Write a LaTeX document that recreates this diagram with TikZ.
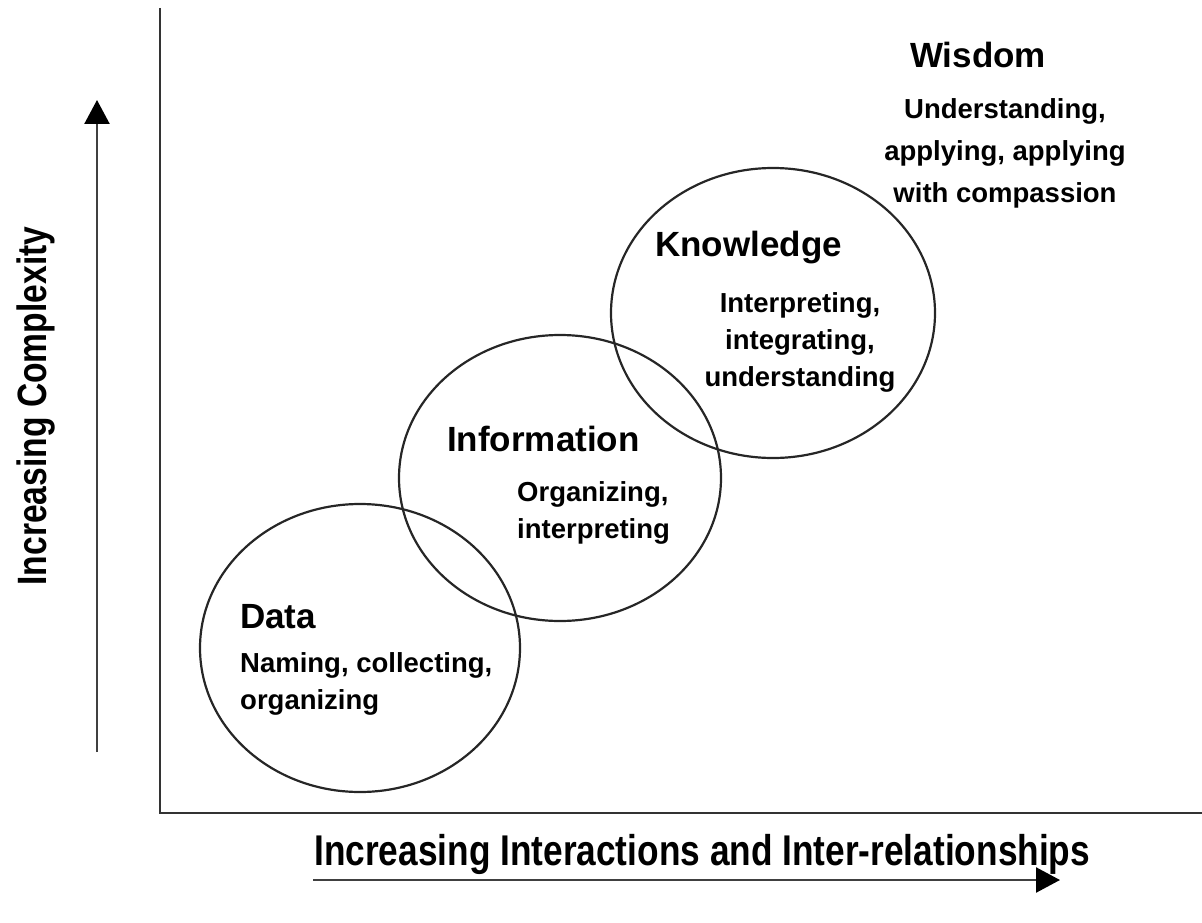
\documentclass[tikz,border=0pt]{standalone}
\usepackage{fontspec}
\setmainfont{Liberation Sans}
\newfontfamily\narrowfont[FakeStretch=0.82]{Liberation Sans}
\usetikzlibrary{arrows.meta,shapes.geometric}
\begin{document}
\begin{tikzpicture}[x=1pt,y=-1pt,
  blob/.style={draw=black!85,line width=2.2pt,ellipse,inner sep=0pt},
  axisline/.style={draw=black!80,line width=2.2pt},
  arrowline/.style={draw=black!75,line width=2.4pt,-{Triangle[length=24pt,width=25pt,fill=black,color=black]}},
  head/.style={font=\bfseries\fontsize{35}{40}\selectfont,inner sep=0pt},
  body/.style={font=\bfseries\fontsize{27.5}{37}\selectfont,inner sep=0pt},
  axislabel/.style={font=\narrowfont\bfseries\fontsize{43}{48}\selectfont,inner sep=0pt}]
\useasboundingbox (0,0) rectangle (1202,923);
% axes
\coordinate (top) at (160,8);
\coordinate (origin) at (160,813);
\coordinate (right) at (1202,813);
\draw[axisline] (top) -- (origin) -- (right);
% arrows
\coordinate (vs) at (97,752);
\coordinate (ve) at (97,100);
\draw[arrowline] (vs) -- (ve);
\coordinate (hs) at (313,880);
\coordinate (he) at (1060,880);
\draw[arrowline] (hs) -- (he);
% axis labels
\node[axislabel,rotate=90,font=\narrowfont\bfseries\fontsize{41}{46}\selectfont] (ylab) at (36,406) {Increasing Complexity};
\node[axislabel,anchor=base west] (xlab) at (314,865) {Increasing Interactions and Inter-relationships};
% ellipses
\node[blob,minimum width=320pt,minimum height=288pt] (dataE) at (360,648) {};
\node[blob,minimum width=322pt,minimum height=286pt] (infoE) at (560,478) {};
\node[blob,minimum width=324pt,minimum height=290pt] (knowE) at (773,313) {};
% texts (base anchor = baseline of the last line)
\node[head,anchor=base west] (dataH) at (240,628) {Data};
\node[body,anchor=base west,align=left] (dataB) at (240,709) {Naming, collecting,\\organizing};
\node[head,anchor=base west] (infoH) at (447,451) {Information};
\node[body,anchor=base west,align=left] (infoB) at (517,538) {Organizing,\\interpreting};
\node[head,anchor=base west] (knowH) at (655,256) {Knowledge};
\node[body,anchor=base,align=center] (knowB) at (800,386) {Interpreting,\\integrating,\\understanding};
\node[head,anchor=base west] (wisH) at (910,68) {Wisdom};
\node[body,anchor=base,align=center,font=\bfseries\fontsize{27.5}{42}\selectfont] (wisB) at (1005,202) {Understanding,\\applying, applying\\with compassion};
\end{tikzpicture}
\end{document}
